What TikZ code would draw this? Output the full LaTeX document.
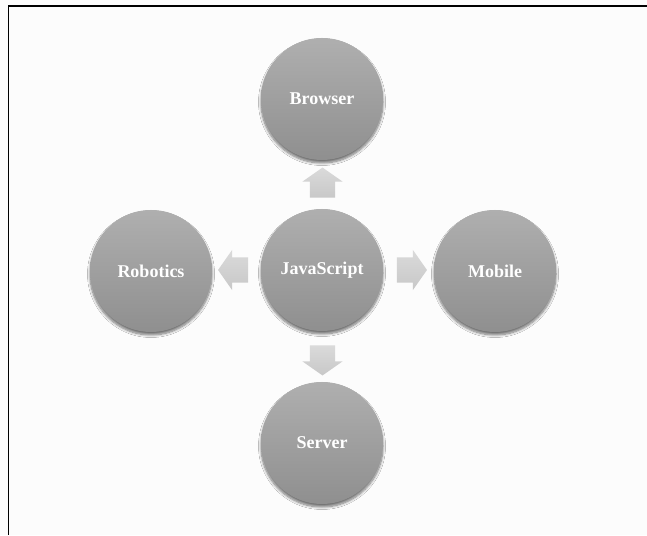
\documentclass[tikz,border=0pt]{standalone}
\usepackage{fontspec}
\setmainfont{Liberation Serif}
\usetikzlibrary{shapes.arrows,shadows.blur}
\definecolor{circtop}{HTML}{AFAFAF}
\definecolor{circbot}{HTML}{8F8F8F}
\definecolor{arrtop}{HTML}{DADADA}
\definecolor{arrbot}{HTML}{C8C8C8}
\tikzset{
  ball/.style={circle, minimum size=122pt, inner sep=0pt,
    top color=circtop, bottom color=circbot, draw=none,
    blur shadow={shadow xshift=0pt, shadow yshift=-3pt, shadow blur steps=8, shadow blur radius=2.5pt, shadow opacity=55},
    text=white, font=\fontsize{18}{20}\selectfont\bfseries},
  blockarrow/.style={single arrow, draw=none, top color=arrtop, bottom color=arrbot,
    minimum height=30pt, minimum width=40pt, inner sep=0pt, text width=0pt, text height=0pt,
    outer sep=0pt, single arrow head extend=7.5pt, single arrow tip angle=110},
  frame/.style={line width=1.3pt, black}
}
\begin{document}
\begin{tikzpicture}[x=1pt,y=1pt]
\useasboundingbox (0,0) rectangle (647,535);
\fill[white!99!black] (0,0) rectangle (647,535);
\coordinate (fbl) at (8.5,0);
\coordinate (ftl) at (8.5,529);
\coordinate (ftr) at (647,529);
\draw[frame] (fbl) -- (ftl) -- (ftr);

\node[ball] (browser) at (322,436) {Browser};
\node[ball] (js) at (322,265) {JavaScript};
\node[ball] (robotics) at (151,264) {Robotics};
\node[ball] (mobile) at (495,264) {Mobile};
\node[ball] (server) at (322,92) {Server};

\node[blockarrow, shape border rotate=90, inner xsep=12.5pt] (aup) at (322.5,348) {};
\node[blockarrow, shape border rotate=180, inner ysep=12.5pt] (aleft) at (237.5,265) {};
\node[blockarrow, shape border rotate=0, inner ysep=12.5pt] (aright) at (407.5,265) {};
\node[blockarrow, shape border rotate=270, inner xsep=12.5pt] (adown) at (322.5,179) {};
\end{tikzpicture}
\end{document}
